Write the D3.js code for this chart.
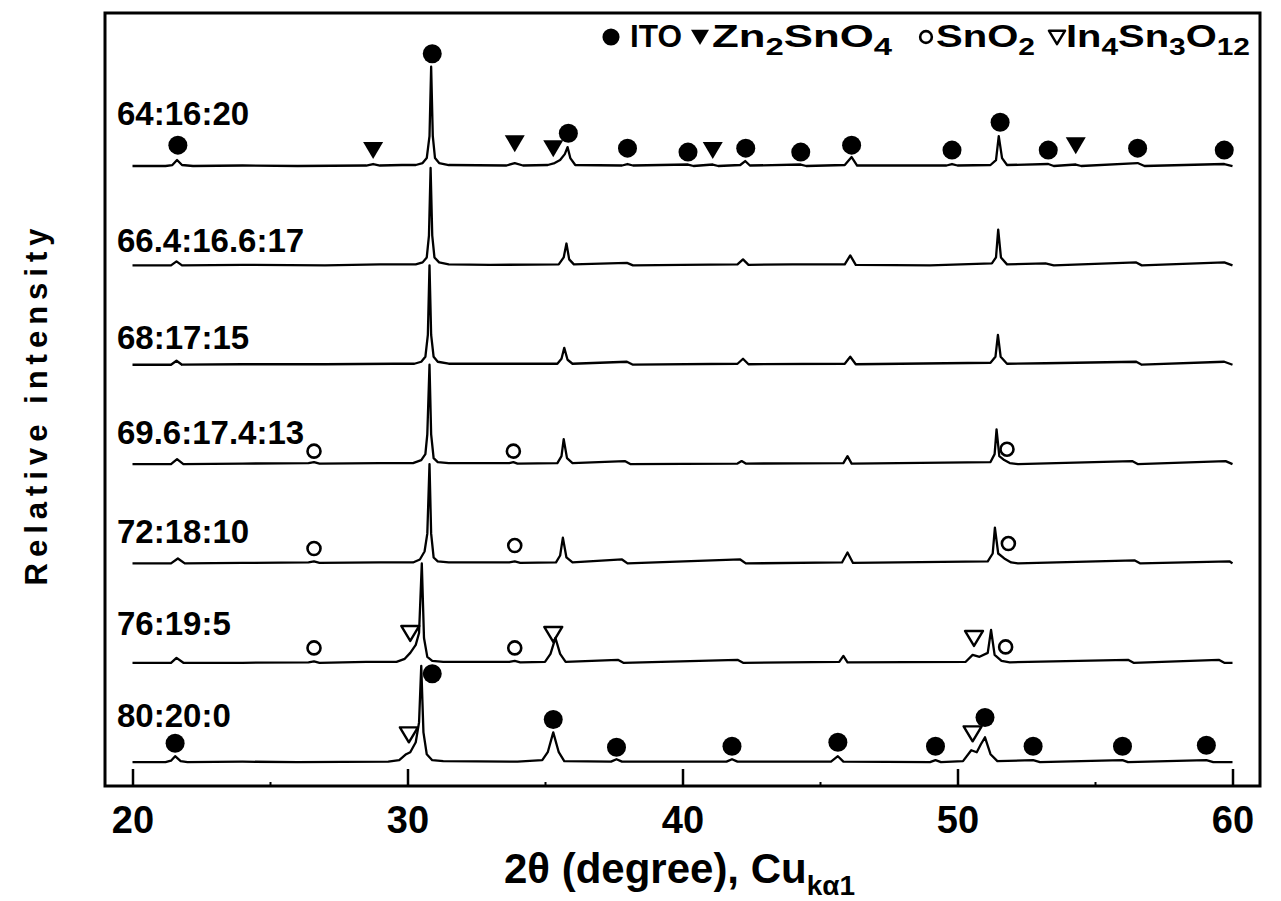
<!DOCTYPE html>
<html>
<head>
<meta charset="utf-8">
<script src="https://cdn.jsdelivr.net/npm/d3@7/dist/d3.min.js"></script>
<style>
  html, body { margin: 0; padding: 0; background: #fff; }
  svg text { font-family: "Liberation Sans", Arial, sans-serif; font-weight: bold; fill: #000; }
</style>
</head>
<body>
<div class="chart-container"></div>
<script>
// -- data (2theta in degree, relative intensity)
const sampleLabels = ['64:16:20', '66.4:16.6:17', '68:17:15', '69.6:17.4:13', '72:18:10', '76:19:5', '80:20:0'];
const traceOffsets = [600, 500, 400, 300, 200, 100, 0];

const trace1 = [[20,0],[21.2,0],[21.45,1],[21.62,6],[21.8,1],[22.2,0],[24,0.5],[26,0],[28.5,0.5],[28.75,2],[29,0.5],[29.8,1],[30.3,1],[30.55,3],[30.7,8],[30.8,30],[30.86,100],[30.92,30],[31,8],[31.15,3],[31.5,1],[33.6,0.5],[33.9,3],[34.2,0.5],[35.1,1],[35.35,3],[35.55,6],[35.72,12],[35.82,19],[35.92,8],[36.1,1],[37.8,0.5],[38,2],[38.2,0.5],[40.2,1.5],[40.4,0],[41.1,1.5],[41.3,0],[42.1,1],[42.28,5],[42.45,0.5],[44.3,1.5],[44.5,0],[45.9,1],[46.15,9],[46.35,0.5],[49.6,0.5],[49.8,2],[50,0.5],[51.2,1],[51.4,6],[51.5,30],[51.62,8],[51.8,1],[53.3,2],[53.5,0],[54.3,1.5],[54.5,0],[56.55,3],[56.8,0],[59.7,2],[60,0]];
const trace2 = [[20,0],[21.4,0],[21.6,4],[21.8,0],[24,0.5],[27,0],[29,1],[30.3,1],[30.55,3],[30.7,8],[30.78,30],[30.84,98],[30.9,30],[30.98,8],[31.15,3],[31.5,1],[33,0.5],[35.5,1],[35.68,8],[35.78,22],[35.88,6],[36.05,1],[37.98,2.5],[38.2,0],[40,0.5],[42,1],[42.2,6],[42.4,0.5],[44,1],[45.9,1],[46.1,10],[46.3,0.5],[49,0],[51.25,2],[51.4,8],[51.48,36],[51.58,8],[51.8,1],[53.2,2],[53.5,0],[56.5,3],[56.7,0],[59.7,3],[60,0]];
const trace3 = [[20,0],[21.4,0],[21.6,4],[21.8,0],[24,0.5],[27,0.5],[29.5,1],[30.25,1],[30.5,3],[30.65,8],[30.74,30],[30.8,100],[30.86,30],[30.95,8],[31.1,3],[31.5,1],[33.9,1],[35.45,1],[35.6,6],[35.7,17],[35.82,5],[36,1],[37.98,3],[38.2,0],[42,1],[42.2,6],[42.4,0.5],[45.9,1],[46.1,8],[46.3,0.5],[51.2,2],[51.38,8],[51.47,30],[51.57,8],[51.8,1],[53.2,1.5],[56.5,3],[56.7,0],[59.7,3],[60,0]];
const trace4 = [[20,0],[21.4,0],[21.62,5],[21.85,0],[24,0.5],[26.4,1],[26.6,2],[26.8,0.5],[29,1],[30.2,1],[30.5,4],[30.65,10],[30.72,30],[30.8,100],[30.86,30],[30.95,6],[31.1,2],[31.5,1],[33.7,1],[33.85,2],[34,0.5],[35.45,1],[35.6,8],[35.68,25],[35.8,6],[36,1],[37.9,3],[38.1,0],[42,0.5],[42.15,3],[42.3,0.5],[45.85,1],[46,8],[46.15,0.5],[51.2,2],[51.35,10],[51.42,35],[51.52,8],[51.7,4],[51.9,1],[52.2,0],[56.35,3],[56.55,0],[59.75,3],[60,0]];
const trace5 = [[20,0],[21.4,0],[21.65,5],[21.9,0],[24,0.5],[26.4,1],[26.6,2],[26.8,0.5],[29,1],[30.2,1],[30.45,4],[30.62,12],[30.72,30],[30.8,100],[30.86,30],[30.95,6],[31.1,2],[31.5,1],[33.7,1],[33.9,2],[34.1,0.5],[35.4,1],[35.55,8],[35.65,26],[35.78,6],[36,1],[37.8,4],[38,0],[42.1,4],[42.3,0],[45.8,1],[46,11],[46.2,0.5],[51.1,2],[51.28,10],[51.36,36],[51.48,10],[51.7,5],[51.95,1],[52.2,0],[56.45,3],[56.65,0],[59.9,2],[60,0]];
const trace6 = [[20,0],[21.4,0],[21.6,5],[21.85,0],[24,0],[26.4,0.5],[26.6,1.5],[26.8,0],[28.5,1],[29.6,1],[29.9,4],[30.1,10],[30.3,18],[30.42,30],[30.52,100],[30.6,25],[30.72,6],[30.9,2],[31.3,1],[33.7,1],[33.9,2],[34.1,0.5],[35,1],[35.2,9],[35.38,25],[35.55,9],[35.75,1],[37.65,3],[37.85,0],[42,3],[42.2,0],[45.7,1],[45.85,7],[46,0.5],[50.3,1],[50.55,8],[50.8,6],[51.1,10],[51.22,33],[51.35,8],[51.6,2],[51.9,0.5],[56.2,3],[56.4,0],[59.5,3],[59.7,0],[60,0]];
const trace7 = [[20,0],[21.2,0],[21.4,1.5],[21.55,6],[21.75,1],[22,0],[24,0.5],[26,0],[29.3,0.5],[29.7,2],[29.95,8],[30.1,10],[30.3,20],[30.42,40],[30.5,97],[30.58,30],[30.7,8],[30.9,2],[31.3,1],[34,0.5],[34.9,2],[35.1,10],[35.3,30],[35.5,10],[35.7,1],[37.4,0.5],[37.6,3],[37.8,0.5],[41.6,0.5],[41.8,3],[42,0.5],[45.4,0.5],[45.65,6],[45.85,0.5],[49,0],[49.2,2],[49.4,0],[50.2,1],[50.5,12],[50.7,10],[50.85,18],[51,25],[51.2,8],[51.45,1],[52.75,2],[53,0],[56,2],[56.2,0],[59.05,2],[59.3,0],[60,0]];

// phase markers: [2theta, height above trace baseline, phase]
const markers1 = [[21.65,21,'ITO'],[28.75,16,'ZTO'],[30.9,113,'ITO'],[33.9,23,'ZTO'],[35.3,18,'ZTO'],[35.85,33,'ITO'],[38,18,'ITO'],[40.2,14,'ITO'],[41.1,16,'ZTO'],[42.3,18,'ITO'],[44.3,14,'ITO'],[46.15,21,'ITO'],[49.8,16,'ITO'],[51.55,44,'ITO'],[53.3,16,'ITO'],[54.3,21,'ZTO'],[56.55,18,'ITO'],[59.7,16,'ITO']];
const markers2 = [];
const markers3 = [];
const markers4 = [[26.6,13,'SnO2'],[33.85,13,'SnO2'],[51.8,15,'SnO2']];
const markers5 = [[26.6,15,'SnO2'],[33.9,18,'SnO2'],[51.85,20,'SnO2']];
const markers6 = [[26.6,15,'SnO2'],[30.1,30,'IST'],[33.9,15,'SnO2'],[35.3,29,'IST'],[50.6,25,'IST'],[51.75,16,'SnO2']];
const markers7 = [[21.55,19,'ITO'],[30.05,28,'IST'],[30.9,89,'ITO'],[35.3,43,'ITO'],[37.6,15,'ITO'],[41.8,16,'ITO'],[45.65,20,'ITO'],[49.2,16,'ITO'],[50.55,29,'IST'],[51,45,'ITO'],[52.75,16,'ITO'],[56,16,'ITO'],[59.05,17,'ITO']];

const xTicks = [20, 30, 40, 50, 60];
const xMinorTicks = [25, 35, 45, 55];

const legendPhases = ['ITO', 'ZTO', 'SnO2', 'IST'];
const legendTexts = [
    [['ITO', false]],
    [['Zn', false], ['2', true], ['SnO', false], ['4', true]],
    [['SnO', false], ['2', true]],
    [['In', false], ['4', true], ['Sn', false], ['3', true], ['O', false], ['12', true]]
];

const traces = [trace1, trace2, trace3, trace4, trace5, trace6, trace7];
const markers = [markers1, markers2, markers3, markers4, markers5, markers6, markers7];

// -- layout
const w = 1281, h = 901;
const margin = {top: 13, right: 21, bottom: 115, left: 105};
const width = w - margin.left - margin.right;
const height = h - margin.top - margin.bottom;
const labelLift = [41, 13, 16, 20, 21, 28, 35];
// [marker x, text x, text length]
const legendX = [[611, 630, 52], [700, 712, 180], [926, 936, 99], [1057, 1066, 184]];

const xScale = d3.scaleLinear().domain([19, 61]).range([0, width]);
const yScale = d3.scaleLinear().domain([-24, 754]).range([height, 0]);

const svg = d3.select('.chart-container')
    .append('svg')
    .attr('width', w)
    .attr('height', h);

const chart = svg.append('g')
    .attr('transform', 'translate(' + margin.left + ',' + margin.top + ')');

// -- marker shapes
function drawMarker(sel, phase, s) {
    if (phase === 'ITO') {
        sel.append('circle').attr('r', 9.5 * s).attr('fill', '#000');
    } else if (phase === 'ZTO') {
        sel.append('path').attr('d', 'M-10,-8L10,-8L0,9Z').attr('fill', '#000')
            .attr('transform', 'scale(' + s + ')');
    } else if (phase === 'SnO2') {
        sel.append('circle').attr('r', 6.5 * s).attr('fill', 'none')
            .attr('stroke', '#000').attr('stroke-width', 2.6);
    } else {
        sel.append('path').attr('d', 'M-9,-7L9,-7L0,8Z').attr('fill', 'none')
            .attr('transform', 'scale(' + s + ')')
            .attr('stroke', '#000').attr('stroke-width', 2.4 / s).attr('stroke-linejoin', 'round');
    }
}

// -- lines
traces.forEach((pts, i) => {
    const off = traceOffsets[i];
    const valueline = d3.line()
        .x(d => xScale(d[0]))
        .y(d => yScale(d[1] + off));

    chart.append('path')
        .attr('class', 'line')
        .attr('d', valueline(pts))
        .attr('fill', 'none')
        .attr('stroke', '#000')
        .attr('stroke-width', 2.3)
        .attr('stroke-linejoin', 'round');

    markers[i].forEach(m => {
        const g = chart.append('g')
            .attr('transform', 'translate(' + xScale(m[0]) + ',' + yScale(m[1] + off) + ')');
        drawMarker(g, m[2], 1);
    });

    chart.append('text')
        .attr('x', 12)
        .attr('y', yScale(off + labelLift[i]))
        .style('font-size', '33px')
        .text(sampleLabels[i]);
});

// -- frame
chart.append('rect')
    .attr('width', width)
    .attr('height', height)
    .attr('fill', 'none')
    .attr('stroke', '#000')
    .attr('stroke-width', 3);

// -- axis
const xAxis = d3.axisBottom(xScale)
    .tickValues(xTicks)
    .tickSizeInner(-17)
    .tickSizeOuter(0)
    .tickPadding(20)
    .tickFormat(d3.format('d'));

const gx = chart.append('g')
    .attr('class', 'x-axis')
    .attr('transform', 'translate(0,' + height + ')')
    .call(xAxis);
gx.select('.domain').remove();
gx.selectAll('.tick line').attr('stroke', '#000').attr('stroke-width', 2.5);
gx.selectAll('.tick text')
    .style('font-size', '38px')
    .style('font-family', '"Liberation Sans", Arial, sans-serif')
    .attr('fill', '#000');

const gxm = chart.append('g')
    .attr('transform', 'translate(0,' + height + ')')
    .call(d3.axisBottom(xScale).tickValues(xMinorTicks).tickSizeInner(-4).tickSizeOuter(0).tickFormat(''));
gxm.select('.domain').remove();
gxm.selectAll('.tick line').attr('stroke', '#000').attr('stroke-width', 2);

// -- axis titles
const xt = svg.append('text')
    .attr('x', margin.left + width / 2 - 3)
    .attr('y', 883)
    .attr('text-anchor', 'middle')
    .style('font-size', '42px');
xt.append('tspan').text('2θ (degree), Cu');
xt.append('tspan').attr('dy', 12).style('font-size', '28px').text('kα1');

svg.append('text')
    .attr('transform', 'translate(47,404) rotate(-90)')
    .attr('text-anchor', 'middle')
    .style('font-size', '31px')
    .style('letter-spacing', '6px')
    .text('Relative intensity');

// -- legend
legendPhases.forEach((p, i) => {
    const g = svg.append('g')
        .attr('transform', 'translate(' + legendX[i][0] + ',37)');
    drawMarker(g, p, 0.9);

    const t = svg.append('text')
        .attr('x', legendX[i][1])
        .attr('y', 47)
        .attr('textLength', legendX[i][2])
        .attr('lengthAdjust', 'spacingAndGlyphs')
        .style('font-size', '32px');
    let down = false;
    legendTexts[i].forEach(part => {
        const ts = t.append('tspan').text(part[0]);
        if (part[1] && !down) { ts.attr('dy', 8).style('font-size', '24px'); down = true; }
        else if (part[1]) { ts.style('font-size', '24px'); }
        else if (down) { ts.attr('dy', -8); down = false; }
    });
});
</script>
</body>
</html>
